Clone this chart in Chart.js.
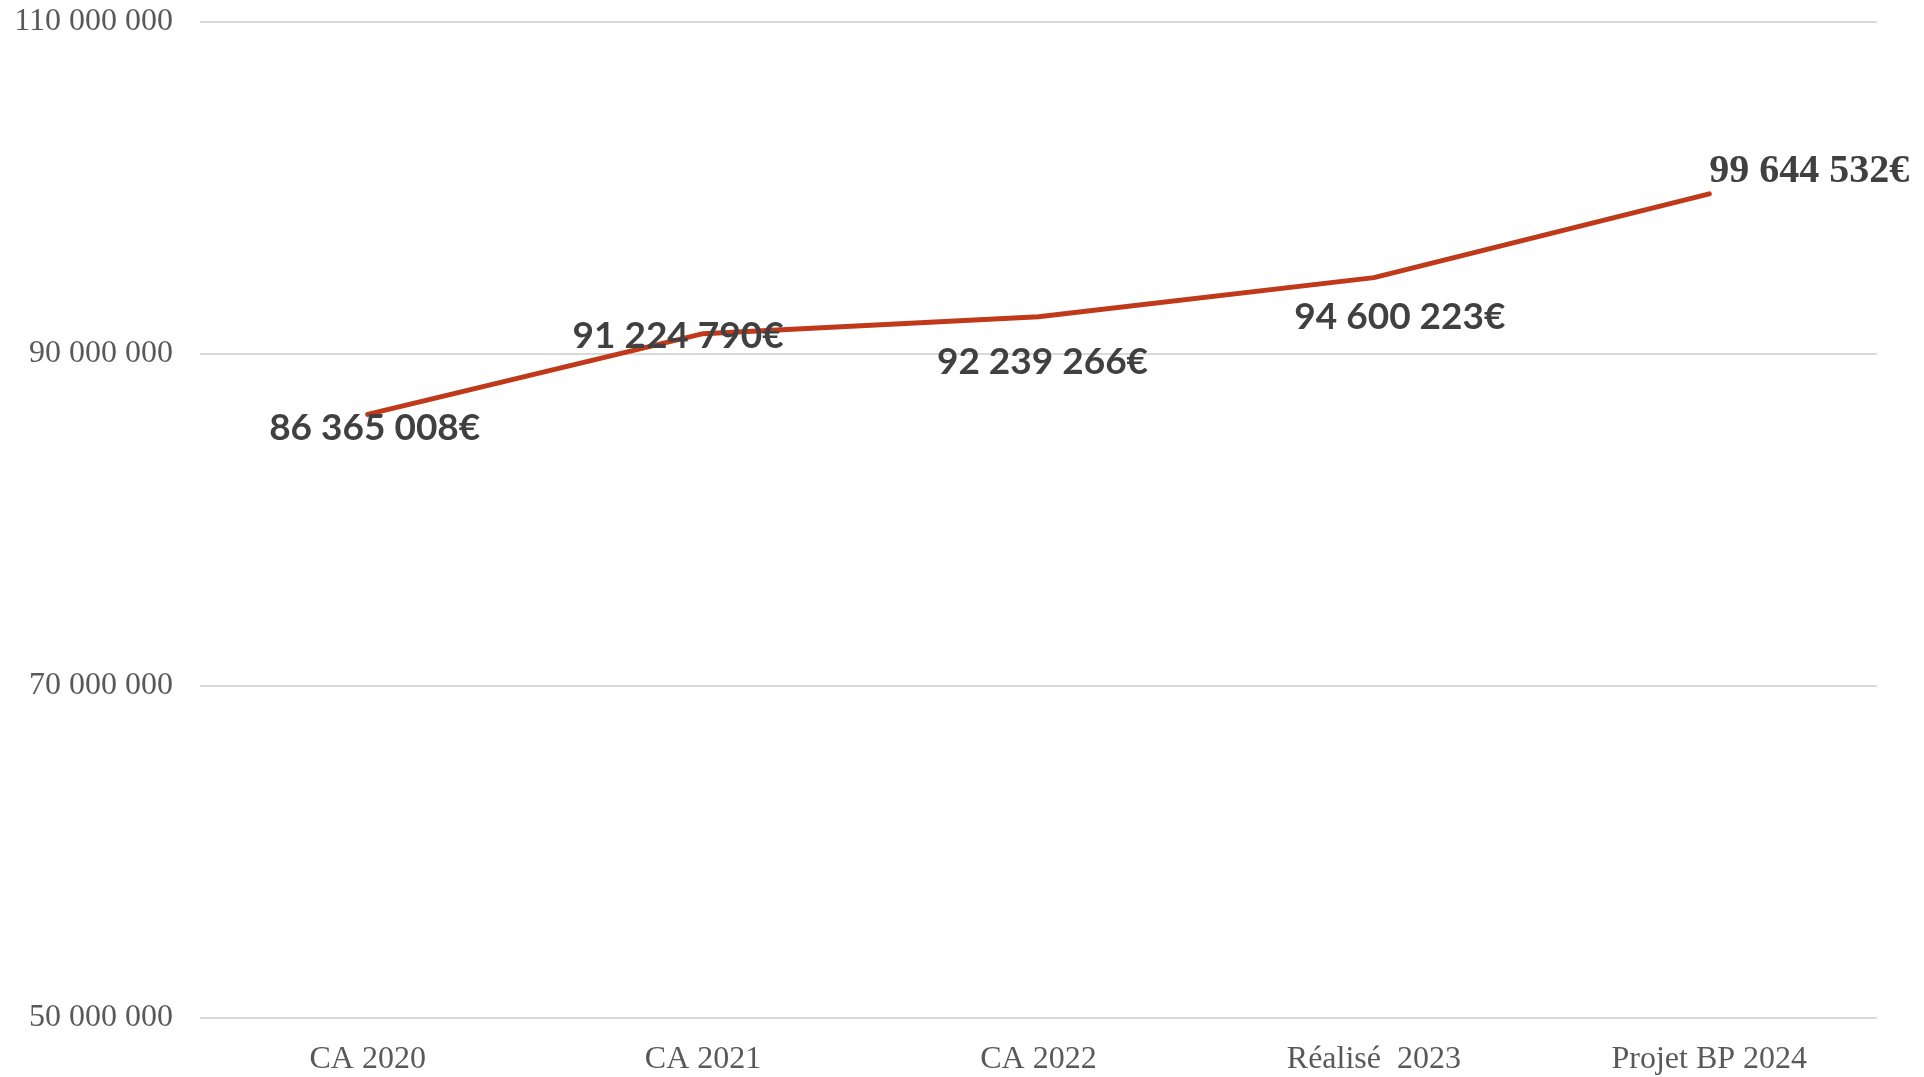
<!DOCTYPE html>
<html>
<head>
<meta charset="utf-8">
<script src="https://cdn.jsdelivr.net/npm/chart.js@4/dist/chart.umd.min.js"></script>
<style>
  html, body { margin: 0; padding: 0; background: #ffffff; }
  #wrap { width: 1924px; height: 1077px; }
</style>
</head>
<body>
<div id="wrap"><canvas id="c" width="1924" height="1077"></canvas></div>
<script>
// Revenue by year (euros)
const categories = ['CA 2020', 'CA 2021', 'CA 2022', 'Réalisé  2023', 'Projet BP 2024'];
const values = [86365008, 91224790, 92239266, 94600223, 99644532];
const yTicks = [50000000, 70000000, 90000000, 110000000];

// Label placement relative to each point: [dx, dy, align, font]
const labelStyle = [
  [7, 14, 'center', 'bold 37px Lato'],
  [-25, 2, 'center', 'bold 37px Lato'],
  [4, 45, 'center', 'bold 37px Lato'],
  [26, 39, 'center', 'bold 37px Lato'],
  [0, -22, 'left', 'bold 40px "Liberation Serif"']
];

function formatThousands(v) {
  return String(v).replace(/\B(?=(\d{3})+(?!\d))/g, ' ');
}

const valueLabels = {
  id: 'valueLabels',
  afterDatasetsDraw(chart) {
    const ctx = chart.ctx;
    const meta = chart.getDatasetMeta(0);
    ctx.save();
    ctx.fillStyle = '#404040';
    ctx.textBaseline = 'middle';
    meta.data.forEach((pt, i) => {
      const [dx, dy, align, font] = labelStyle[i];
      ctx.font = font;
      ctx.textAlign = align;
      ctx.fillText(formatThousands(values[i]) + '€', pt.x + dx, pt.y + dy);
    });
    ctx.restore();
  }
};

new Chart(document.getElementById('c'), {
  type: 'line',
  data: {
    labels: categories,
    datasets: [{
      data: values,
      borderColor: '#C0391A',
      borderWidth: 5,
      borderCapStyle: 'round',
      borderJoinStyle: 'round',
      pointRadius: 0,
      tension: 0,
      fill: false
    }]
  },
  options: {
    responsive: false,
    animation: false,
    layout: { padding: { top: 22, right: 47, left: 0, bottom: 0 } },
    plugins: {
      legend: { display: false },
      tooltip: { enabled: false }
    },
    scales: {
      x: {
        offset: true,
        grid: { display: false, drawTicks: false },
        border: { display: false },
        ticks: {
          color: '#595959',
          font: { family: '"Liberation Serif"', size: 32 },
          padding: 22,
          maxRotation: 0
        },
        afterFit(scale) { scale.height = 59; }
      },
      y: {
        min: 50000000,
        max: 110000000,
        afterBuildTicks(scale) { scale.ticks = yTicks.map(v => ({ value: v })); },
        grid: { color: '#d9d9d9', lineWidth: 2, drawTicks: false },
        border: { display: false },
        ticks: {
          color: '#595959',
          font: { family: '"Liberation Serif"', size: 32 },
          padding: 27,
          callback: v => formatThousands(v)
        },
        afterFit(scale) {
          scale.width = 200;
          scale.paddingTop = 0;
          scale.paddingBottom = 0;
        }
      }
    }
  },
  plugins: [valueLabels]
});
</script>
</body>
</html>
